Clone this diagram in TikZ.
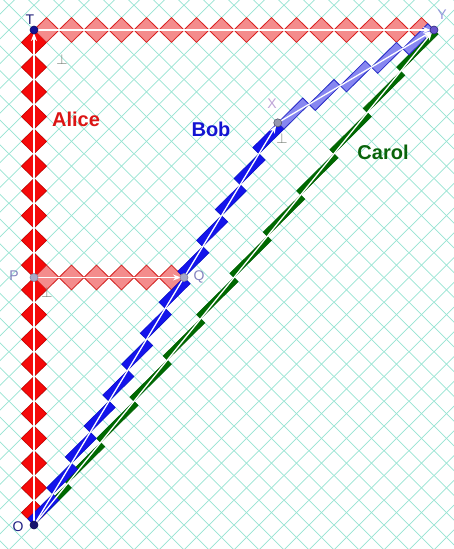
\documentclass[tikz,border=0pt]{standalone}
\usepackage{fontspec}
\setmainfont{Liberation Sans}
\usetikzlibrary{arrows.meta}
\newcommand{\clockchain}[8]{% #1 style, #2 #3 start, #4 #5 step, #6 a, #7 b, #8 count
  \foreach \i in {1,...,#8}{%
    \pgfmathsetmacro\xs{#2+(\i-1)*(#4)}%
    \pgfmathsetmacro\ys{#3+(\i-1)*(#5)}%
    \path[#1] (\xs,\ys) -- ({\xs+(#6)},{\ys+(#6)}) -- ({\xs+(#4)},{\ys+(#5)}) -- ({\xs-(#7)},{\ys+(#7)}) -- cycle;
  }}
\begin{document}
\begin{tikzpicture}[x=25pt,y=24.75pt,
  gridline/.style={draw={rgb,255:red,150;green,228;blue,210}, line width=0.7pt},
  alicet/.style={fill={rgb,255:red,245;green,10;blue,10}, draw={rgb,255:red,205;green,0;blue,0}, line width=0.6pt},
  alices/.style={fill={rgb,255:red,244;green,140;blue,140}, draw={rgb,255:red,220;green,30;blue,30}, line width=0.8pt},
  bobt/.style={fill={rgb,255:red,20;green,20;blue,235}, draw={rgb,255:red,10;green,10;blue,200}, line width=0.5pt},
  bobs/.style={fill={rgb,255:red,135;green,135;blue,240}, draw={rgb,255:red,40;green,40;blue,200}, line width=0.8pt},
  carolt/.style={fill={rgb,255:red,0;green,105;blue,0}, draw={rgb,255:red,0;green,95;blue,0}, line width=0.5pt},
  wl/.style={draw=white, line width=1.3pt, -{Stealth[length=8pt,width=6pt]}, shorten >=3pt},
  dot/.style={circle, inner sep=0pt, minimum size=8pt, draw, line width=0.6pt},
  ptlabel/.style={font=\fontsize{14}{14}\selectfont, inner sep=0pt},
  who/.style={font=\bfseries\fontsize{20}{20}\selectfont, inner sep=0pt},
  perpmark/.style={font=\fontsize{14}{14}\selectfont, inner sep=0pt, text={rgb,255:red,110;green,120;blue,110}}
]
\useasboundingbox[fill=white] (-1.36,-0.9697) rectangle (16.8,21.2121);
\begin{scope}
  \clip (-1.36,-0.9697) rectangle (16.8,21.2121);
  \foreach \k in {-26,...,24} \draw[gridline] (-3,{-3+\k}) -- (25,{25+\k});
  \foreach \k in {-2,...,40} \draw[gridline] (-3,{\k+3}) -- (25,{\k-25});
\end{scope}

\coordinate (O) at (0,0);
\coordinate (T) at (0,20);
\coordinate (Y) at (16,20);
\coordinate (X) at (9.75,16.25);
\coordinate (P) at (0,10);
\coordinate (Q) at (6,10);

% Alice
\clockchain{alicet}{0}{0}{0}{1}{0.5}{0.5}{20}
\clockchain{alices}{0}{20}{1}{0}{0.5}{-0.5}{16}
\clockchain{alices}{0}{10}{1}{0}{0.5}{-0.5}{6}
% Carol
\clockchain{carolt}{0}{0}{4/3}{5/3}{1.5}{1/6}{12}
% Bob
\clockchain{bobt}{0}{0}{0.75}{1.25}{1}{0.25}{13}
\clockchain{bobs}{9.75}{16.25}{1.25}{0.75}{1}{-0.25}{5}

% worldlines
\draw[wl] (O) -- (T);
\draw[wl] (T) -- (Y);
\draw[wl] (P) -- (Q);
\draw[wl] (O) -- (Y);
\draw[wl] (O) -- (X);
\draw[wl] (X) -- (Y);

% events
\node[dot, fill={rgb,255:red,20;green,20;blue,110}, draw={rgb,255:red,10;green,10;blue,80}] (o) at (O) {};
\node[dot, fill={rgb,255:red,20;green,20;blue,150}, draw={rgb,255:red,10;green,10;blue,100}] (t) at (T) {};
\node[dot, fill={rgb,255:red,105;green,85;blue,205}, draw={rgb,255:red,40;green,40;blue,120}] (y) at (Y) {};
\node[dot, fill={rgb,255:red,150;green,150;blue,175}, draw={rgb,255:red,90;green,90;blue,110}] (x) at (X) {};
\node[dot, fill={rgb,255:red,170;green,170;blue,200}, draw={rgb,255:red,130;green,130;blue,160}] (p) at (P) {};
\node[dot, fill={rgb,255:red,170;green,170;blue,200}, draw={rgb,255:red,130;green,130;blue,160}] (q) at (Q) {};

% labels
\node[ptlabel, text={rgb,255:red,30;green,30;blue,120}] (lT) at (-0.16,20.4) {T};
\node[ptlabel, text={rgb,255:red,150;green,150;blue,220}] (lY) at (16.32,20.61) {Y};
\node[ptlabel, text={rgb,255:red,190;green,165;blue,215}] (lX) at (9.52,17.01) {X};
\node[ptlabel, text={rgb,255:red,30;green,30;blue,130}] (lO) at (-0.64,-0.08) {O};
\node[ptlabel, text={rgb,255:red,130;green,130;blue,190}] (lP) at (-0.8,10.06) {P};
\node[ptlabel, text={rgb,255:red,130;green,130;blue,190}] (lQ) at (6.6,10.02) {Q};

\node[perpmark] (m1) at (1.12,18.79) {$\perp$};
\node[perpmark] (m2) at (0.52,9.41) {$\perp$};
\node[perpmark] (m3) at (9.92,15.6) {$\perp$};

\node[who, text={rgb,255:red,220;green,20;blue,20}] (alice) at (1.68,16.4) {Alice};
\node[who, text={rgb,255:red,20;green,20;blue,210}] (bob) at (7.08,16.0) {Bob};
\node[who, text={rgb,255:red,10;green,100;blue,10}] (carol) at (13.96,15.07) {Carol};
\end{tikzpicture}
\end{document}
